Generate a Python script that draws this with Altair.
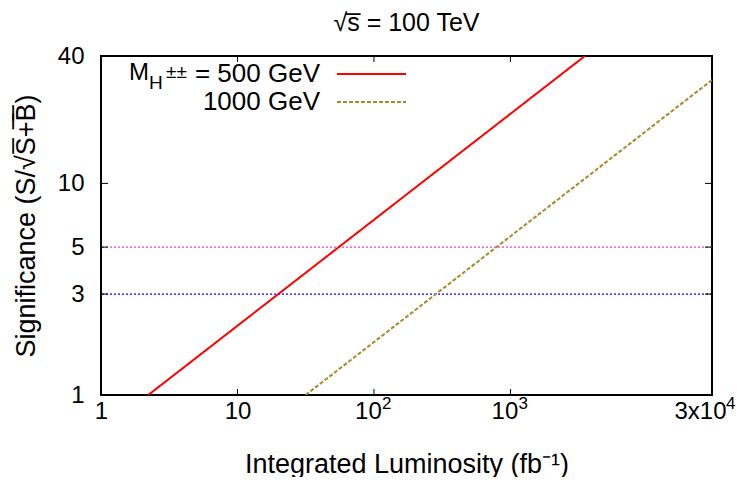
import altair as alt
import pandas as pd

# --- data ---
red_L = [2.22, 3515]
red_S = [1.0, 40.0]
olive_L = [31.6, 30000]
olive_S = [1.0, 30.8]
series_names = ["500 GeV", "1000 GeV"]

ref_levels = [5, 3]
ref_colors = ["#e040e0", "#0000ff"]

x_ticks = [1, 10, 100, 1000, 30000]
x_tick_base = ["1", "10", "10", "10", "3x10"]
x_tick_exp = ["", "", "2", "3", "4"]
y_ticks = [1, 3, 5, 10, 40]
x_inner_ticks = [10, 100, 1000]
y_inner_ticks = [3, 5, 10]

FONT = "Liberation Sans"
W, H = 611, 339

rows = []
for L, S in zip(red_L, red_S):
    rows.append({"L": L, "S": S, "series": series_names[0]})
for L, S in zip(olive_L, olive_S):
    rows.append({"L": L, "S": S, "series": series_names[1]})
df = pd.DataFrame(rows)

xscale = alt.Scale(type="log", domain=[1, 30000], nice=False)
yscale = alt.Scale(type="log", domain=[1, 40], nice=False)

x_label_expr = ("datum.value == 30000 ? '3x10' : datum.value >= 10 ? '10' : '1'")

xaxis = alt.Axis(values=x_ticks, labelExpr=x_label_expr, grid=False, ticks=False, tickSize=0,
                 domain=False, labelFont=FONT, labelFontSize=24, labelColor="black",
                 labelPadding=4, labelFlush=False, labelOverlap=False, labelBound=False,
                 labelOffset={"condition": [{"test": "datum.value == 30000", "value": -12},
                                            {"test": "datum.value >= 100", "value": -6}], "value": 0},
                 title="Integrated Luminosity (fb\u207b\u00b9)", titleFont=FONT, titleFontSize=27,
                 titleFontWeight="normal", titleColor="black", titleX=305.5, titleY=69,
                 titleBaseline="middle")
yaxis = alt.Axis(values=y_ticks, format="d", grid=False, ticks=False, tickSize=0, domain=False,
                 labelFont=FONT, labelFontSize=24, labelColor="black", labelPadding=17,
                 labelFlush=False, labelOverlap=False, labelBound=False,
                 title="Significance (S/\u221aS\u0305+\u0305B\u0305)", titleFont=FONT, titleFontSize=27,
                 titleFontWeight="normal", titleColor="black", titleX=-88, titleY=169.5,
                 titleBaseline="top")

lines = alt.Chart(df).mark_line(clip=True).encode(
    x=alt.X("L:Q", scale=xscale, axis=xaxis),
    y=alt.Y("S:Q", scale=yscale, axis=yaxis),
    color=alt.Color("series:N", scale=alt.Scale(domain=series_names, range=["#ff0000", "#a8892c"]), legend=None),
    strokeDash=alt.StrokeDash("series:N", scale=alt.Scale(domain=series_names, range=[[1, 0], [4, 2]]), legend=None),
    strokeWidth=alt.value(2),
)

ref_df = pd.DataFrame({"level": ref_levels, "col": ref_colors})
refs = alt.Chart(ref_df).mark_rule(strokeWidth=1.3, strokeDash=[2, 2]).encode(
    y=alt.Y("level:Q", scale=yscale),
    color=alt.Color("col:N", scale=None),
)

xt = pd.DataFrame({"v": x_inner_ticks})
yt = pd.DataFrame({"v": y_inner_ticks})
tick_bottom = alt.Chart(xt).mark_rule(color="black", strokeWidth=1).encode(
    x=alt.X("v:Q", scale=xscale), y=alt.value(H), y2=alt.value(H - 6))
tick_top = alt.Chart(xt).mark_rule(color="black", strokeWidth=1).encode(
    x=alt.X("v:Q", scale=xscale), y=alt.value(0), y2=alt.value(6))
tick_left = alt.Chart(yt).mark_rule(color="black", strokeWidth=1).encode(
    y=alt.Y("v:Q", scale=yscale), x=alt.value(0), x2=alt.value(7))
tick_right = alt.Chart(yt).mark_rule(color="black", strokeWidth=1).encode(
    y=alt.Y("v:Q", scale=yscale), x=alt.value(W), x2=alt.value(W - 7))

# superscripts of the x tick labels
exp_df = pd.DataFrame({"v": x_ticks, "e": x_tick_exp})
sup_mid = alt.Chart(exp_df).transform_filter("datum.v >= 100 && datum.v <= 1000").mark_text(
    align="left", baseline="top", font=FONT, fontSize=17, color="black", dx=8, clip=False).encode(
    x=alt.X("v:Q", scale=xscale), y=alt.value(H + 1), text="e:N")
sup_end = alt.Chart(exp_df).transform_filter("datum.v == 30000").mark_text(
    align="left", baseline="top", font=FONT, fontSize=17, color="black", dx=14, clip=False).encode(
    x=alt.X("v:Q", scale=xscale), y=alt.value(H + 1), text="e:N")

# --- manual legend ---
leg_text = alt.Chart(pd.DataFrame({"t": ["= 500 GeV", "1000 GeV"], "yy": [18, 46]})).mark_text(
    align="right", baseline="middle", font=FONT, fontSize=26, color="black").encode(
    text="t:N", x=alt.value(219), y=alt.Y("yy:Q", scale=None))
leg_M = alt.Chart(pd.DataFrame({"t": ["M"]})).mark_text(
    align="left", baseline="middle", font=FONT, fontSize=24, color="black").encode(
    text="t:N", x=alt.value(28), y=alt.value(17))
leg_H = alt.Chart(pd.DataFrame({"t": ["H"]})).mark_text(
    align="left", baseline="middle", font=FONT, fontSize=19, color="black").encode(
    text="t:N", x=alt.value(48), y=alt.value(27))
leg_pm = alt.Chart(pd.DataFrame({"t": ["\u00b1\u00b1"]})).mark_text(
    align="left", baseline="middle", font=FONT, fontSize=19, color="black").encode(
    text="t:N", x=alt.value(65), y=alt.value(16))
leg_red = alt.Chart(pd.DataFrame({"s": [series_names[0]]})).mark_rule(color="#ff0000", strokeWidth=2).encode(
    x=alt.value(236), x2=alt.value(305), y=alt.value(18))
leg_olive = alt.Chart(pd.DataFrame({"s": [series_names[1]]})).mark_rule(color="#a8892c", strokeWidth=2, strokeDash=[4, 2]).encode(
    x=alt.value(236), x2=alt.value(305), y=alt.value(46))

chart = alt.layer(
    refs, lines, tick_bottom, tick_top, tick_left, tick_right, sup_mid, sup_end,
    leg_text, leg_M, leg_H, leg_pm, leg_red, leg_olive,
).properties(
    width=W, height=H,
    padding={"left": 93, "top": 48, "right": 30, "bottom": 82},
    autosize=alt.AutoSizeParams(type="none"),
    title=alt.TitleParams("\u221as\u0305 = 100 TeV", font=FONT, fontSize=25, fontWeight="normal",
                          color="black", anchor="middle", offset=8),
).configure_view(stroke="black", strokeWidth=2)

chart.save("out.html", embed_options={"renderer": "svg", "actions": False})
